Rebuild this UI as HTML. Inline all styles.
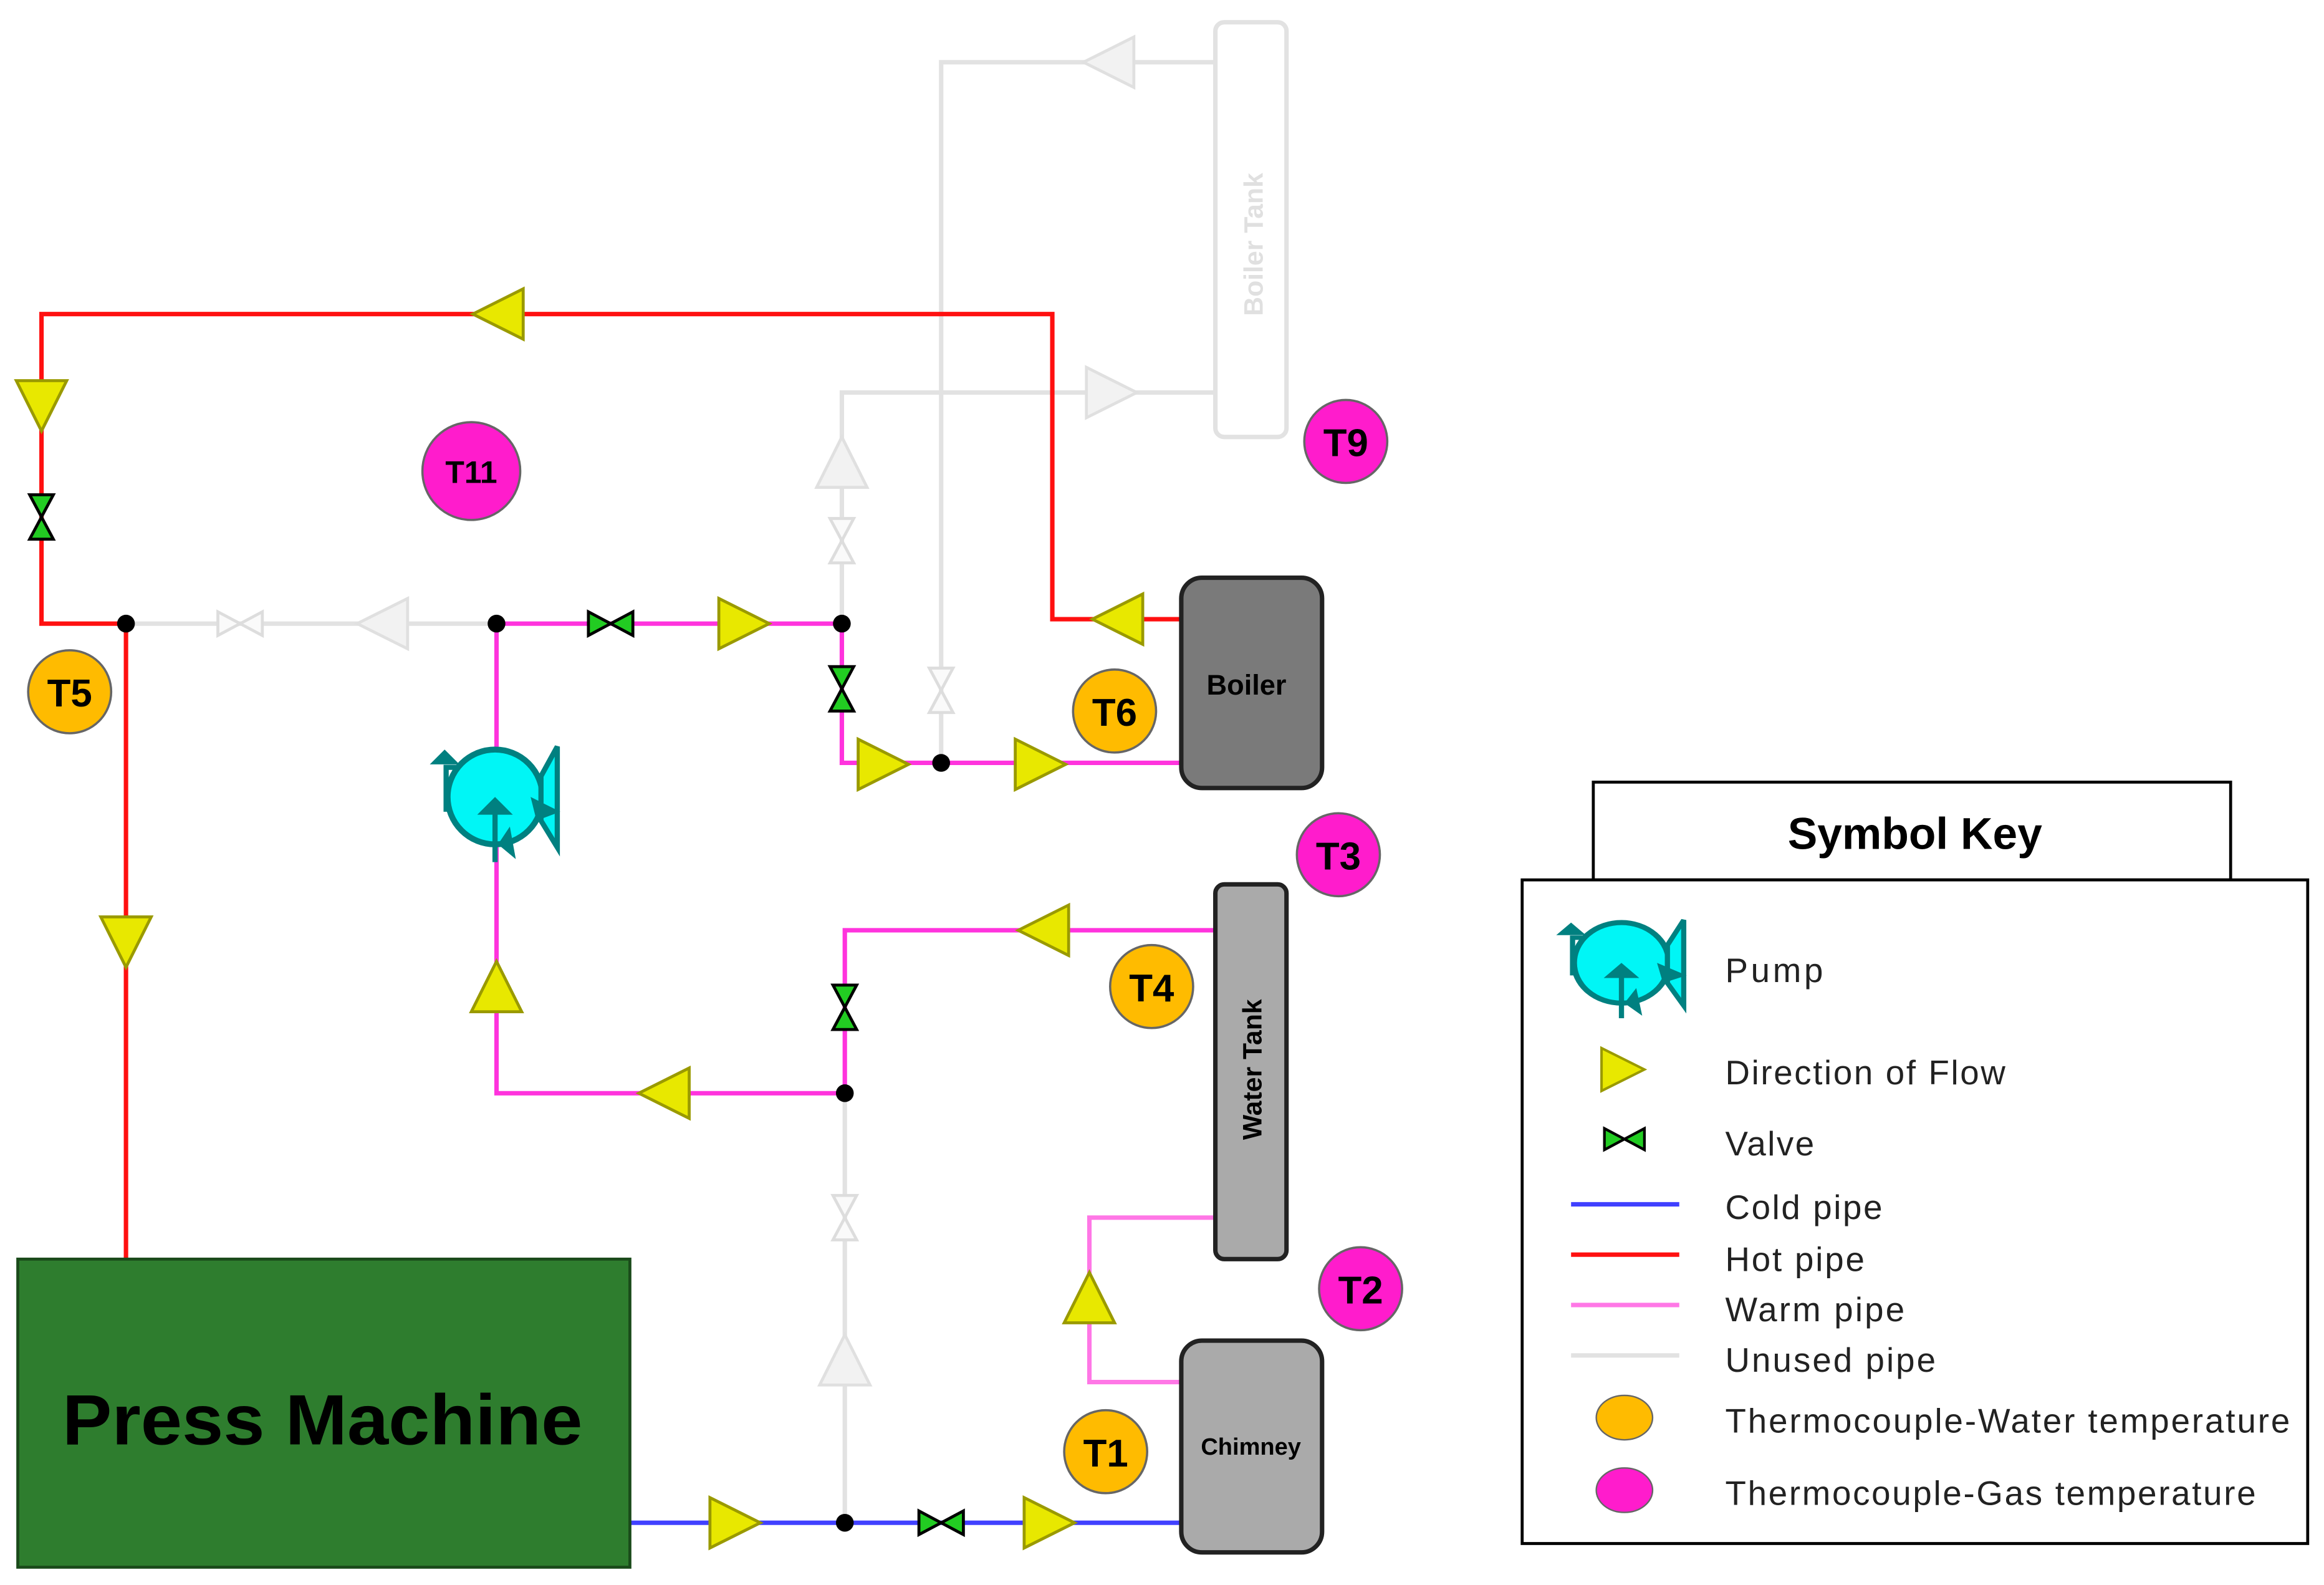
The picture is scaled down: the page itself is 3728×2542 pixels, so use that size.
<!DOCTYPE html>
<html><head><meta charset="utf-8"><style>
html,body{margin:0;padding:0;background:#fff;}
svg{display:block;}
text{font-family:"Liberation Sans",sans-serif;}
</style></head><body>
<svg width="3728" height="2542" viewBox="0 0 1568 1070" preserveAspectRatio="none" xmlns="http://www.w3.org/2000/svg">
<defs>
<g id="tr"><polygon points="-17,-17 17,0 -17,17" fill="#e8e800" stroke="#9a9a00" stroke-width="2"/></g>
<g id="trg"><polygon points="-17,-17 17,0 -17,17" fill="#f2f2f2" stroke="#e0e0e0" stroke-width="2"/></g>
<g id="vv"><polygon points="-15,-8 0,0 -15,8" fill="#22cc22" stroke="#000" stroke-width="2"/><polygon points="15,-8 0,0 15,8" fill="#22cc22" stroke="#000" stroke-width="2"/></g>
<g id="vg"><polygon points="-15,-8 0,0 -15,8" fill="#fafafa" stroke="#ddd" stroke-width="2"/><polygon points="15,-8 0,0 15,8" fill="#fafafa" stroke="#ddd" stroke-width="2"/></g>
<g id="pump">
<path d="M-26,-20 L-33,-20 L-33,10" fill="none" stroke="#008080" stroke-width="3.5"/>
<polygon points="-44,-22 -34,-32 -24,-22" fill="#008080"/>
<circle cx="0" cy="0" r="32" fill="#00f6f6" stroke="#008080" stroke-width="4"/>
<polygon points="31,-14 42,-34 42,34 31,16" fill="#00f6f6" stroke="#008080" stroke-width="3.5"/>
<polygon points="24,0 44,10 28,16" fill="#008080"/>
<line x1="0" y1="44" x2="0" y2="8" stroke="#008080" stroke-width="3.5"/>
<polygon points="-12,12 0,0 12,12" fill="#008080"/>
<polygon points="2,32 10,20 14,42" fill="#008080"/>
</g>
</defs>
<g stroke="#e2e2e2" stroke-width="3" fill="none">
<rect x="820" y="15" width="48" height="280" rx="6"/>
<polyline points="820,42 635,42 635,515"/>
<polyline points="820,265 568,265 568,421"/>
<line x1="85" y1="421" x2="335" y2="421"/>
<line x1="570" y1="738" x2="570" y2="1028"/>
</g>
<text transform="translate(852,165) rotate(-90)" text-anchor="middle" font-size="18" font-weight="bold" fill="#e0e0e0">Boiler Tank</text>
<use href="#trg" transform="translate(748,42) rotate(180)"/>
<use href="#trg" transform="translate(750,265)"/>
<use href="#trg" transform="translate(568,312) rotate(-90)"/>
<use href="#trg" transform="translate(258,421) rotate(180)"/>
<use href="#trg" transform="translate(570,918) rotate(-90)"/>
<use href="#vg" transform="translate(162,421)"/>
<use href="#vg" transform="translate(568,365) rotate(90)"/>
<use href="#vg" transform="translate(635,466) rotate(90)"/>
<use href="#vg" transform="translate(570,822) rotate(90)"/>
<polyline points="797,418 710,418 710,212 28,212 28,421 85,421 85,850" stroke="#ff1010" stroke-width="3" fill="none"/>
<g stroke="#ff33dd" stroke-width="3" fill="none">
<polyline points="335,421 568,421 568,515 797,515"/>
<polyline points="335,421 335,738 570,738 570,628 820,628"/>
</g>
<polyline points="820,822 735,822 735,933 797,933" stroke="#ff77e6" stroke-width="3" fill="none"/>
<line x1="425" y1="1028" x2="797" y2="1028" stroke="#4040ff" stroke-width="3"/>
<use href="#tr" transform="translate(336,212) rotate(180)"/>
<use href="#tr" transform="translate(28,274) rotate(90)"/>
<use href="#tr" transform="translate(85,636) rotate(90)"/>
<use href="#tr" transform="translate(754,418) rotate(180)"/>
<use href="#tr" transform="translate(502,421)"/>
<use href="#tr" transform="translate(596,516)"/>
<use href="#tr" transform="translate(702,516)"/>
<use href="#tr" transform="translate(335,666) rotate(-90)"/>
<use href="#tr" transform="translate(448,738) rotate(180)"/>
<use href="#tr" transform="translate(704,628) rotate(180)"/>
<use href="#tr" transform="translate(735,876) rotate(-90)"/>
<use href="#tr" transform="translate(496,1028)"/>
<use href="#tr" transform="translate(708,1028)"/>
<use href="#vv" transform="translate(28,349) rotate(90)"/>
<use href="#vv" transform="translate(412,421)"/>
<use href="#vv" transform="translate(568,465) rotate(90)"/>
<use href="#vv" transform="translate(570,680) rotate(90)"/>
<use href="#vv" transform="translate(635,1028)"/>
<g fill="#000"><circle cx="85" cy="421" r="6"/><circle cx="335" cy="421" r="6"/><circle cx="568" cy="421" r="6"/><circle cx="635" cy="515" r="6"/><circle cx="570" cy="738" r="6"/><circle cx="570" cy="1028" r="6"/></g>
<use href="#pump" transform="translate(334,538)"/>
<rect x="797" y="390" width="95" height="142" rx="14" fill="#7a7a7a" stroke="#222" stroke-width="3"/>
<text x="841" y="469" text-anchor="middle" font-size="19" font-weight="bold">Boiler</text>
<rect x="820" y="597" width="48" height="253" rx="6" fill="#aaa" stroke="#222" stroke-width="3"/>
<text transform="translate(851,722) rotate(-90)" text-anchor="middle" font-size="18" font-weight="bold">Water Tank</text>
<rect x="797" y="905" width="95" height="143" rx="14" fill="#aaa" stroke="#222" stroke-width="3"/>
<text x="844" y="982" text-anchor="middle" font-size="16" font-weight="bold">Chimney</text>
<rect x="12" y="850" width="413" height="208" fill="#2e7d2e" stroke="#1a4a1a" stroke-width="2"/>
<text x="42" y="975" font-size="48" font-weight="bold" fill="#000" textLength="351" lengthAdjust="spacingAndGlyphs">Press Machine</text>
<g stroke="#666" stroke-width="1.5" font-weight="bold" text-anchor="middle">
<circle cx="318" cy="318" r="33" fill="#ff1ccc"/><text x="318" y="326" font-size="21" stroke="none">T11</text>
<circle cx="908" cy="298" r="28" fill="#ff1ccc"/><text x="908" y="308" font-size="26" stroke="none">T9</text>
<circle cx="903" cy="577" r="28" fill="#ff1ccc"/><text x="903" y="587" font-size="26" stroke="none">T3</text>
<circle cx="918" cy="870" r="28" fill="#ff1ccc"/><text x="918" y="880" font-size="26" stroke="none">T2</text>
<circle cx="47" cy="467" r="28" fill="#ffbb00"/><text x="47" y="477" font-size="26" stroke="none">T5</text>
<circle cx="752" cy="480" r="28" fill="#ffbb00"/><text x="752" y="490" font-size="26" stroke="none">T6</text>
<circle cx="777" cy="666" r="28" fill="#ffbb00"/><text x="777" y="676" font-size="26" stroke="none">T4</text>
<circle cx="746" cy="980" r="28" fill="#ffbb00"/><text x="746" y="990" font-size="26" stroke="none">T1</text>
</g>
<rect x="1075" y="528" width="430" height="66" fill="#fff" stroke="#000" stroke-width="2"/>
<text x="1292" y="573" text-anchor="middle" font-size="30" font-weight="bold">Symbol Key</text>
<rect x="1027" y="594" width="530" height="448" fill="#fff" stroke="#000" stroke-width="2"/>
<use href="#pump" transform="translate(1094,650) scale(1,0.85)"/>
<use href="#tr" transform="translate(1095,722) scale(0.85)"/>
<use href="#vv" transform="translate(1096,769) scale(0.9)"/>
<line x1="1060" y1="813" x2="1133" y2="813" stroke="#4040ff" stroke-width="3"/>
<line x1="1060" y1="847" x2="1133" y2="847" stroke="#ff1010" stroke-width="3"/>
<line x1="1060" y1="881" x2="1133" y2="881" stroke="#ff77e6" stroke-width="3"/>
<line x1="1060" y1="915" x2="1133" y2="915" stroke="#e2e2e2" stroke-width="3"/>
<ellipse cx="1096" cy="957" rx="19" ry="15" fill="#ffbb00" stroke="#666"/>
<ellipse cx="1096" cy="1006" rx="19" ry="15" fill="#ff1ccc" stroke="#666"/>
<g font-size="23" fill="#222" lengthAdjust="spacingAndGlyphs">
<text x="1164" y="663" textLength="66">Pump</text>
<text x="1164" y="732" textLength="189">Direction of Flow</text>
<text x="1164" y="780" textLength="60">Valve</text>
<text x="1164" y="823" textLength="106">Cold pipe</text>
<text x="1164" y="858" textLength="94">Hot pipe</text>
<text x="1164" y="892" textLength="121">Warm pipe</text>
<text x="1164" y="926" textLength="142">Unused pipe</text>
<text x="1164" y="967" textLength="381">Thermocouple-Water temperature</text>
<text x="1164" y="1016" textLength="358">Thermocouple-Gas temperature</text>
</g>
</svg>
</body></html>
